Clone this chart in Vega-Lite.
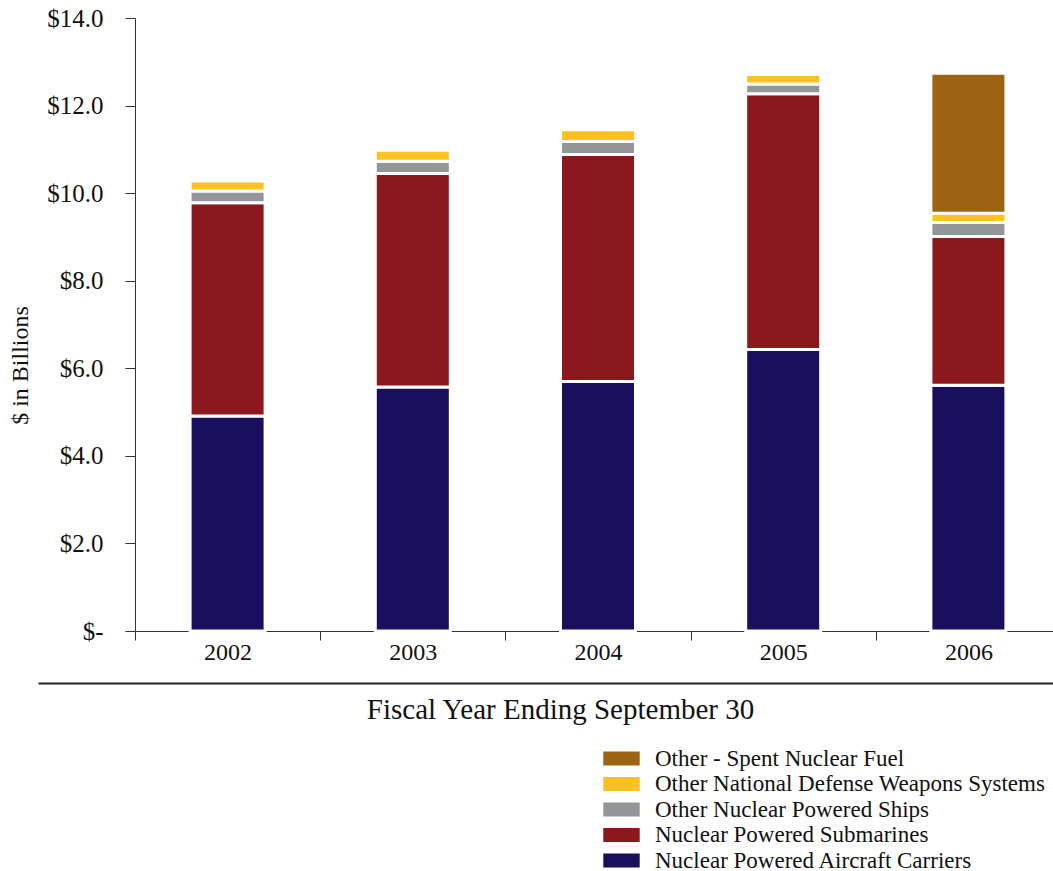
{
  "$schema": "https://vega.github.io/schema/vega-lite/v6.json",
  "width": 918,
  "height": 613,
  "autosize": "none",
  "padding": {"left": 135, "top": 18, "right": 0, "bottom": 240},
  "background": "white",
  "config": {
    "view": {"stroke": null},
    "font": "Liberation Serif",
    "axis": {"labelColor": "#111", "titleColor": "#111", "labelFont": "Liberation Serif", "titleFont": "Liberation Serif", "titleFontWeight": "normal"},
    "legend": {"labelFont": "Liberation Serif", "labelColor": "#111"}
  },
  "data": {
    "values": [
      {"year": "2002", "category": "Nuclear Powered Aircraft Carriers", "value": 4.91},
      {"year": "2002", "category": "Nuclear Powered Submarines", "value": 4.87},
      {"year": "2002", "category": "Other Nuclear Powered Ships", "value": 0.27},
      {"year": "2002", "category": "Other National Defense Weapons Systems", "value": 0.23},
      {"year": "2003", "category": "Nuclear Powered Aircraft Carriers", "value": 5.575},
      {"year": "2003", "category": "Nuclear Powered Submarines", "value": 4.875},
      {"year": "2003", "category": "Other Nuclear Powered Ships", "value": 0.28},
      {"year": "2003", "category": "Other National Defense Weapons Systems", "value": 0.25},
      {"year": "2004", "category": "Nuclear Powered Aircraft Carriers", "value": 5.70},
      {"year": "2004", "category": "Nuclear Powered Submarines", "value": 5.18},
      {"year": "2004", "category": "Other Nuclear Powered Ships", "value": 0.30},
      {"year": "2004", "category": "Other National Defense Weapons Systems", "value": 0.27},
      {"year": "2005", "category": "Nuclear Powered Aircraft Carriers", "value": 6.43},
      {"year": "2005", "category": "Nuclear Powered Submarines", "value": 5.84},
      {"year": "2005", "category": "Other Nuclear Powered Ships", "value": 0.22},
      {"year": "2005", "category": "Other National Defense Weapons Systems", "value": 0.22},
      {"year": "2006", "category": "Nuclear Powered Aircraft Carriers", "value": 5.61},
      {"year": "2006", "category": "Nuclear Powered Submarines", "value": 3.40},
      {"year": "2006", "category": "Other Nuclear Powered Ships", "value": 0.32},
      {"year": "2006", "category": "Other National Defense Weapons Systems", "value": 0.21},
      {"year": "2006", "category": "Other - Spent Nuclear Fuel", "value": 3.20}
    ]
  },
  "transform": [
    {"calculate": "indexof(['Nuclear Powered Aircraft Carriers','Nuclear Powered Submarines','Other Nuclear Powered Ships','Other National Defense Weapons Systems','Other - Spent Nuclear Fuel'], datum.category)", "as": "stackIdx"}
  ],
  "layer": [
    {
      "mark": {"type": "bar", "stroke": "white", "strokeWidth": 3, "width": {"band": 0.405}},
      "encoding": {
        "x": {
          "field": "year", "type": "nominal",
          "scale": {"range": [0, 926], "paddingInner": 0, "paddingOuter": 0},
          "axis": {
            "title": null, "labelAngle": 0, "labelFontSize": 24, "labelPadding": 0,
            "tickBand": "extent", "tickSize": 9, "tickColor": "#333", "domainColor": "#333",
            "labelBaseline": "top"
          }
        },
        "y": {
          "field": "value", "type": "quantitative", "stack": "zero",
          "scale": {"domain": [0, 14], "nice": false},
          "axis": {
            "values": [0, 2, 4, 6, 8, 10, 12, 14],
            "labelExpr": "datum.value == 0 ? '$-' : '$' + format(datum.value, '.1f')",
            "labelFontSize": 25, "labelPadding": 22, "tickSize": 10, "grid": false,
            "tickColor": "#333", "domainColor": "#333",
            "title": "$ in Billions", "titleFontSize": 24,
            "titleX": -115, "titleY": 347, "titleAngle": -90, "titleAlign": "center", "titleBaseline": "middle"
          }
        },
        "color": {
          "field": "category", "type": "nominal",
          "scale": {
            "domain": ["Other - Spent Nuclear Fuel", "Other National Defense Weapons Systems", "Other Nuclear Powered Ships", "Nuclear Powered Submarines", "Nuclear Powered Aircraft Carriers"],
            "range": ["#9c6412", "#fdc221", "#939598", "#8a181d", "#1a0f5e"]
          },
          "legend": {
            "title": null, "orient": "none", "legendX": 475, "legendY": 729,
            "symbolType": "M-2.6,-1H2.6V1H-2.6Z", "symbolSize": 196, "symbolStrokeWidth": 0,
            "labelFontSize": 23, "labelOffset": 22, "rowPadding": 1.5, "labelLimit": 500
          }
        },
        "order": {"field": "stackIdx", "type": "quantitative", "sort": "ascending"}
      }
    },
    {
      "mark": {"type": "tick", "opacity": 0},
      "encoding": {
        "x": {
          "field": "year", "type": "nominal",
          "scale": {"range": [-97, 926], "paddingInner": 0, "paddingOuter": 0},
          "axis": {
            "orient": "bottom", "offset": 52, "labels": false, "ticks": false,
            "domain": true, "domainColor": "#222", "domainWidth": 2,
            "title": "Fiscal Year Ending September 30", "titleFontSize": 29, "titlePadding": 12,
            "titleX": 425
          }
        }
      }
    }
  ],
  "resolve": {"axis": {"x": "independent"}, "scale": {"x": "independent"}}
}
